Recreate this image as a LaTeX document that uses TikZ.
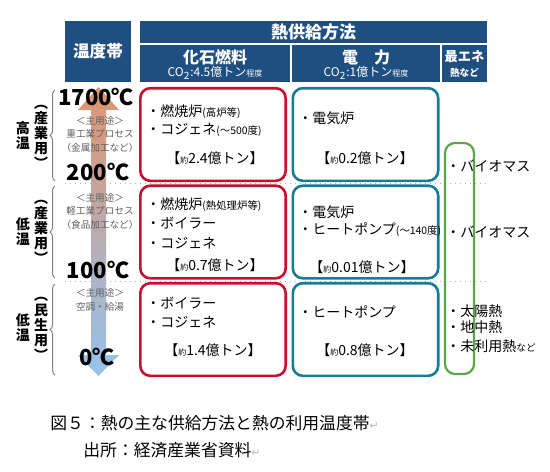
\documentclass[tikz,border=0pt]{standalone}
\usepackage{fontspec}
\setmainfont{Noto Sans CJK JP}
\newfontfamily\symfont{DejaVu Sans}
\usetikzlibrary{positioning, decorations.pathreplacing}
\definecolor{hdrblue}{RGB}{31,78,128}
\definecolor{fossilred}{RGB}{200,16,46}
\definecolor{electeal}{RGB}{24,124,148}
\definecolor{renewgreen}{RGB}{92,166,72}
\definecolor{usegray}{RGB}{95,95,95}
\definecolor{arrowtop}{RGB}{222,148,112}
\definecolor{arrowmid}{RGB}{184,138,168}
\definecolor{arrowbot}{RGB}{150,195,238}
\newcommand{\sml}[1]{{\fontsize{5.2}{6}\selectfont #1}}
\newcommand{\yaku}{{\fontsize{4}{5}\selectfont 約}}
\newcommand{\retmark}{{\symfont\color{gray!55}\fontsize{5.5}{6}\selectfont ↵}}
\tikzset{
    hdr/.style={
            fill=hdrblue, % dark blue header cells
            text=white,
            font=\bfseries,
            inner sep=0pt,
        },
    hdrtext/.style={text=white, inner sep=0pt, font=\bfseries\fontsize{8}{9}\selectfont},
    hdrsub/.style={text=white, inner sep=0pt, font=\fontsize{6}{6.5}\selectfont},
    fossil/.style={
            draw=fossilred,
            line width=1.3pt,
            rounded corners=5pt, % radius of the rounded corners
            fill=white,
            minimum width=72.7pt,
            minimum height=46.3pt,
        },
    elec/.style={fossil, draw=electeal},
    renew/.style={draw=renewgreen, line width=1.1pt, rounded corners=5pt, minimum width=14.5pt, minimum height=115.5pt},
    item/.style={anchor=west, inner sep=0pt, font=\fontsize{7}{8}\selectfont},
    amount/.style={inner sep=0pt, font=\fontsize{7}{8}\selectfont},
    usage/.style={inner sep=0pt, text=usegray, font=\fontsize{4.8}{5}\selectfont},
    temp/.style={inner sep=0pt, font=\bfseries\fontsize{11}{12}\selectfont},
    vlabel/.style={inner sep=0pt, align=center, font=\bfseries\fontsize{7}{7.5}\selectfont},
    sep/.style={dotted, gray!60, line width=0.5pt}, % band separators
    bandbrace/.style={decorate, decoration={brace, amplitude=2.5pt}, draw=gray, line width=0.5pt},
    caption/.style={anchor=west, inner sep=0pt, font=\fontsize{8.4}{9}\selectfont},
}
\begin{document}
\begin{tikzpicture}[x=0.5pt, y=-0.5pt, node distance=48.75pt]
                \useasboundingbox (0,0) rectangle (550,471);

                % header
                \node[hdr, minimum width=33pt, minimum height=30.5pt, font=\bfseries\fontsize{8.3}{9}\selectfont] (band) at (98,51.5) {温度帯};
                \node[hdr, minimum width=173.5pt, minimum height=11pt, font=\bfseries\fontsize{8.5}{9}\selectfont] (supply) at (313.5,32) {熱供給方法};
                \node[hdr, minimum width=75pt, minimum height=18.5pt] (fossilhd) at (215,63.5) {};
                \node[hdr, minimum width=74pt, minimum height=18.5pt] (elechd) at (366,63.5) {};
                \node[hdr, minimum width=22.5pt, minimum height=18.5pt] (renewhd) at (464.5,63.5) {};
                \node[hdrtext] (fossilt) at (215,57) {化石燃料};
                \node[hdrsub] (fossilco) at (215,73) {CO\textsubscript{2}:4.5億トン{\fontsize{4}{4}\selectfont 程度}};
                \node[hdrtext] (elect) at (366,57) {電　力};
                \node[hdrsub] (elecco) at (366,73) {CO\textsubscript{2}:1億トン{\fontsize{4}{4}\selectfont 程度}};
                \node[hdrtext, font=\bfseries\fontsize{6.6}{7}\selectfont] (renewt) at (464.5,57) {最エネ};
                \node[hdrsub, font=\bfseries\fontsize{4.8}{5}\selectfont] (renewsub) at (464.5,73) {熱など};

                % band separators
                \draw[sep] (65,183) -- (487,183);
                \draw[sep] (65,281) -- (487,281);

                % temperature arrow
                \path[top color=arrowtop, middle color=arrowmid, bottom color=arrowbot]
                    (91,110) -- (78,110) -- (98.5,87) -- (119,110) -- (106,110) -- (106,355)
                    -- (119,355) -- (98.5,376) -- (78,355) -- (91,355) -- cycle;

                % boxes
                \node[fossil] (f1) at (213,134.5) {};
                \node[fossil, below of=f1] (f2) {};
                \node[fossil, below of=f2] (f3) {};
                \node[elec, right of=f1, xshift=27.5pt] (e1) {};
                \node[elec, right of=f2, xshift=27.5pt] (e2) {};
                \node[elec, right of=f3, xshift=27.5pt] (e3) {};
                \node[renew] (r1) at (459.5,258.5) {};

                % temperatures
                \node[temp] (t1700) at (96,97) {1700℃};
                \node[temp] (t200) at (98,172) {200℃};
                \node[temp] (t100) at (98,270) {100℃};
                \node[temp] (t0) at (97,357) {0℃};

                % main uses
                \node[usage] (u1a) at (100,121) {＜主用途＞};
                \node[usage] (u1b) at (100,134) {重工業プロセス};
                \node[usage] (u1c) at (100,148) {（金属加工など）};
                \node[usage] (u2a) at (100,198) {＜主用途＞};
                \node[usage] (u2b) at (100,211) {軽工業プロセス};
                \node[usage] (u2c) at (100,225) {（食品加工など）};
                \node[usage] (u3a) at (100,293) {＜主用途＞};
                \node[usage] (u3b) at (100,307) {空調・給湯};

                % braces and band labels
                \draw[bandbrace] (55,181) -- (55,90);
                \draw[bandbrace] (55,278) -- (55,186);
                \draw[bandbrace] (55,375) -- (55,284);
                \node[vlabel] (hi) at (23,135.5) {高\\温};
                \node[vlabel] (hiuse) at (41,137) {︵\\産\\業\\用\\︶};
                \node[vlabel] (lo) at (23,232) {低\\温};
                \node[vlabel] (louse) at (41,232) {︵\\産\\業\\用\\︶};
                \node[vlabel] (lo2) at (23,328) {低\\温};
                \node[vlabel] (lo2use) at (41,329) {︵\\民\\生\\用\\︶};

                % fossil fuels
                \node[item] (f1a) at (146,112) {・燃焼炉\sml{(高炉等)}};
                \node[item] (f1b) at (146,130) {・コジェネ\sml{(～500度)}};
                \node[amount] (f1c) at (215,158) {【\yaku 2.4億トン】};
                \node[item] (f2a) at (146,205) {・燃焼炉\sml{(熱処理炉等)}};
                \node[item] (f2b) at (146,223) {・ボイラー};
                \node[item] (f2c) at (146,243) {・コジェネ};
                \node[amount] (f2d) at (215,265) {【\yaku 0.7億トン】};
                \node[item] (f3a) at (146,303) {・ボイラー};
                \node[item] (f3b) at (146,322) {・コジェネ};
                \node[amount] (f3c) at (213,350) {【\yaku 1.4億トン】};

                % electricity
                \node[item] (e1a) at (298,118) {・電気炉};
                \node[amount] (e1b) at (365,158) {【\yaku 0.2億トン】};
                \node[item] (e2a) at (298,212) {・電気炉};
                \node[item] (e2b) at (298,230) {・ヒートポンプ\sml{(～140度)}};
                \node[amount] (e2c) at (362,267) {【\yaku 0.01億トン】};
                \node[item] (e3a) at (298,312) {・ヒートポンプ};
                \node[amount] (e3b) at (365,350) {【\yaku 0.8億トン】};

                % renewable heat
                \node[item] (r1a) at (446,166) {・バイオマス};
                \node[item] (r1b) at (446,232) {・バイオマス};
                \node[item] (r1c) at (446,311) {・太陽熱};
                \node[item] (r1d) at (446,327) {・地中熱};
                \node[item] (r1e) at (446,346) {・未利用熱{\fontsize{4.8}{5}\selectfont など}};

                % caption
                \node[caption] (cap1) at (50,423) {図５：熱の主な供給方法と熱の利用温度帯\retmark};
                \node[caption] (cap2) at (83,450) {出所：経済産業省資料\retmark};

        \end{tikzpicture}
\end{document}
